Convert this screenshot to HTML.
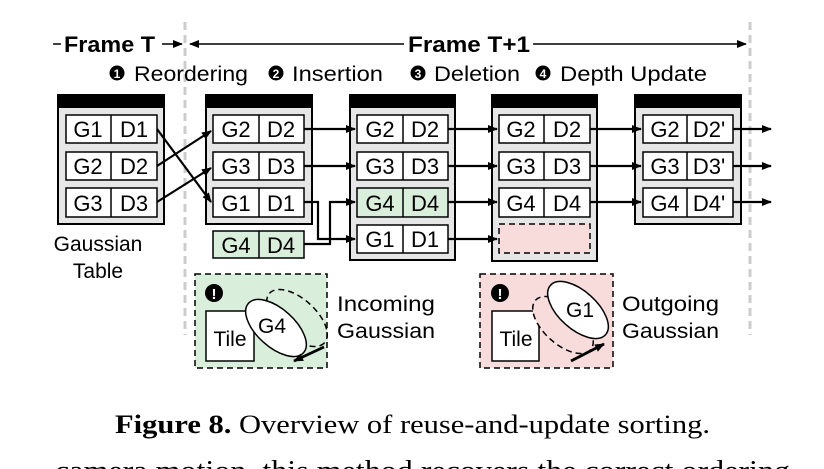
<!DOCTYPE html>
<html><head><meta charset="utf-8"><style>
html,body{margin:0;padding:0;background:#fff;width:824px;height:469px;overflow:hidden}
svg{display:block}
text{font-family:"Liberation Sans",sans-serif;fill:#000}
</style></head><body>
<svg width="824" height="469" viewBox="0 0 824 469" xmlns="http://www.w3.org/2000/svg">
<defs>
<marker id="a" markerWidth="10" markerHeight="8" refX="9" refY="4" orient="auto" markerUnits="userSpaceOnUse"><path d="M0,0 L10,4 L0,8 Z" fill="#000"/></marker>
</defs>
<line x1="185" y1="22" x2="185" y2="335" stroke="#ccc" stroke-width="3" stroke-dasharray="8,5"/>
<line x1="750" y1="22" x2="750" y2="335" stroke="#ccc" stroke-width="3" stroke-dasharray="8,5"/>
<line x1="53" y1="44" x2="61" y2="44" stroke="#000" stroke-width="1.5"/>
<text x="64" y="52" font-size="22" font-weight="bold" textLength="91" lengthAdjust="spacingAndGlyphs">Frame T</text>
<line x1="162" y1="44" x2="182" y2="44" stroke="#000" stroke-width="1.5" marker-end="url(#a)"/>
<line x1="404" y1="44" x2="190" y2="44" stroke="#000" stroke-width="1.5" marker-end="url(#a)"/>
<text x="408" y="52" font-size="22" font-weight="bold" textLength="122" lengthAdjust="spacingAndGlyphs">Frame T+1</text>
<line x1="533" y1="44" x2="746" y2="44" stroke="#000" stroke-width="1.5" marker-end="url(#a)"/>
<g font-size="21">
<circle cx="117" cy="73" r="7.5" fill="#000"/><text x="117" y="78" font-size="12" font-weight="bold" text-anchor="middle" style="fill:#fff">1</text>
<text x="134" y="81" textLength="114" lengthAdjust="spacingAndGlyphs">Reordering</text>
<circle cx="276" cy="73" r="7.5" fill="#000"/><text x="276" y="78" font-size="12" font-weight="bold" text-anchor="middle" style="fill:#fff">2</text>
<text x="292" y="81" textLength="91" lengthAdjust="spacingAndGlyphs">Insertion</text>
<circle cx="418" cy="73" r="7.5" fill="#000"/><text x="418" y="78" font-size="12" font-weight="bold" text-anchor="middle" style="fill:#fff">3</text>
<text x="434" y="81" textLength="86" lengthAdjust="spacingAndGlyphs">Deletion</text>
<circle cx="543" cy="73" r="7.5" fill="#000"/><text x="543" y="78" font-size="12" font-weight="bold" text-anchor="middle" style="fill:#fff">4</text>
<text x="560" y="81" textLength="147" lengthAdjust="spacingAndGlyphs">Depth Update</text>
</g>
<g stroke="#000" stroke-width="2">
<rect x="58" y="96" width="106" height="128" fill="#e6e6e6"/>
<rect x="58" y="95" width="106" height="12" fill="#000"/>
<rect x="206" y="96" width="106" height="128" fill="#e6e6e6"/>
<rect x="206" y="95" width="106" height="12" fill="#000"/>
<rect x="350" y="96" width="105" height="164" fill="#e6e6e6"/>
<rect x="350" y="95" width="105" height="12" fill="#000"/>
<rect x="492" y="96" width="105" height="165" fill="#e6e6e6"/>
<rect x="492" y="95" width="105" height="12" fill="#000"/>
<rect x="635" y="96" width="106" height="128" fill="#e6e6e6"/>
<rect x="635" y="95" width="106" height="12" fill="#000"/>
</g>
<g stroke="#000" stroke-width="1.5" fill="#fff">
<rect x="66" y="115" width="91" height="28"/><line x1="111" y1="115" x2="111" y2="143"/>
<rect x="66" y="152" width="91" height="28"/><line x1="111" y1="152" x2="111" y2="180"/>
<rect x="66" y="188" width="91" height="29"/><line x1="111" y1="188" x2="111" y2="217"/>
<rect x="213" y="115" width="91" height="28"/><line x1="259" y1="115" x2="259" y2="143"/>
<rect x="213" y="152" width="91" height="28"/><line x1="259" y1="152" x2="259" y2="180"/>
<rect x="213" y="188" width="91" height="29"/><line x1="259" y1="188" x2="259" y2="217"/>
<rect x="213" y="231" width="91" height="27" fill="#d9eedb"/><line x1="259" y1="231" x2="259" y2="258"/>
<rect x="357" y="115" width="91" height="28"/><line x1="403" y1="115" x2="403" y2="143"/>
<rect x="357" y="152" width="91" height="28"/><line x1="403" y1="152" x2="403" y2="180"/>
<rect x="357" y="188" width="91" height="29" fill="#d9eedb"/><line x1="403" y1="188" x2="403" y2="217"/>
<rect x="357" y="225" width="91" height="28"/><line x1="403" y1="225" x2="403" y2="253"/>
<rect x="499" y="115" width="91" height="28"/><line x1="544" y1="115" x2="544" y2="143"/>
<rect x="499" y="152" width="91" height="28"/><line x1="544" y1="152" x2="544" y2="180"/>
<rect x="499" y="188" width="91" height="29"/><line x1="544" y1="188" x2="544" y2="217"/>
<rect x="499" y="224" width="91" height="29" fill="#f8dcdc" stroke-dasharray="6,4"/>
<rect x="643" y="115" width="90" height="28"/><line x1="687" y1="115" x2="687" y2="143"/>
<rect x="643" y="152" width="90" height="28"/><line x1="687" y1="152" x2="687" y2="180"/>
<rect x="643" y="188" width="90" height="29"/><line x1="687" y1="188" x2="687" y2="217"/>
</g>
<g text-anchor="middle" font-size="22">
<text x="88" y="137">G1</text><text x="134" y="137">D1</text>
<text x="88" y="174">G2</text><text x="134" y="174">D2</text>
<text x="88" y="211">G3</text><text x="134" y="211">D3</text>
<text x="236" y="137">G2</text><text x="281" y="137">D2</text>
<text x="236" y="174">G3</text><text x="281" y="174">D3</text>
<text x="236" y="211">G1</text><text x="281" y="211">D1</text>
<text x="236" y="253">G4</text><text x="281" y="253">D4</text>
<text x="380" y="137">G2</text><text x="425" y="137">D2</text>
<text x="380" y="174">G3</text><text x="425" y="174">D3</text>
<text x="380" y="211">G4</text><text x="425" y="211">D4</text>
<text x="380" y="247">G1</text><text x="425" y="247">D1</text>
<text x="521" y="137">G2</text><text x="567" y="137">D2</text>
<text x="521" y="174">G3</text><text x="567" y="174">D3</text>
<text x="521" y="211">G4</text><text x="567" y="211">D4</text>
<text x="665" y="137">G2</text><text x="709" y="137">D2'</text>
<text x="665" y="174">G3</text><text x="709" y="174">D3'</text>
<text x="665" y="211">G4</text><text x="709" y="211">D4'</text>
<text x="98" y="251" font-size="21">Gaussian</text>
<text x="98" y="278" font-size="21">Table</text>
</g>
<g stroke="#000" stroke-width="2.2" fill="none">
<line x1="157" y1="129" x2="211" y2="202" marker-end="url(#a)"/>
<line x1="157" y1="166" x2="211" y2="131" marker-end="url(#a)"/>
<line x1="157" y1="202" x2="211" y2="168" marker-end="url(#a)"/>
<line x1="304" y1="129" x2="355" y2="129" marker-end="url(#a)"/>
<line x1="304" y1="166" x2="355" y2="166" marker-end="url(#a)"/>
<polyline points="304,202 318,202 318,239 355,239" marker-end="url(#a)"/>
<polyline points="304,244 330,244 330,202 355,202" marker-end="url(#a)"/>
<line x1="448" y1="129" x2="497" y2="129" marker-end="url(#a)"/>
<line x1="448" y1="166" x2="497" y2="166" marker-end="url(#a)"/>
<line x1="448" y1="202" x2="497" y2="202" marker-end="url(#a)"/>
<line x1="448" y1="239" x2="497" y2="239" marker-end="url(#a)"/>
<line x1="590" y1="129" x2="641" y2="129" marker-end="url(#a)"/>
<line x1="590" y1="166" x2="641" y2="166" marker-end="url(#a)"/>
<line x1="590" y1="202" x2="641" y2="202" marker-end="url(#a)"/>
<line x1="733" y1="129" x2="771" y2="129" marker-end="url(#a)"/>
<line x1="733" y1="166" x2="771" y2="166" marker-end="url(#a)"/>
<line x1="733" y1="202" x2="771" y2="202" marker-end="url(#a)"/>
</g>
<rect x="195" y="274" width="132" height="94" fill="#d9eedb" stroke="#000" stroke-width="1.5" stroke-dasharray="6,4"/>
<rect x="206" y="311" width="48" height="50" fill="#fff" stroke="#000" stroke-width="1.5"/>
<text x="230" y="346" font-size="21" text-anchor="middle">Tile</text>
<ellipse cx="297" cy="318" rx="37" ry="19" transform="rotate(42 297 318)" fill="none" stroke="#000" stroke-width="1.5" stroke-dasharray="6,4"/>
<ellipse cx="276" cy="328" rx="37" ry="19" transform="rotate(42 276 328)" fill="#fff" stroke="#000" stroke-width="1.5"/>
<text x="272" y="333" font-size="21" text-anchor="middle">G4</text>
<circle cx="214" cy="293" r="9" fill="#000"/>
<text x="214" y="299" font-size="15" font-weight="bold" text-anchor="middle" style="fill:#fff">!</text>
<line x1="324" y1="347" x2="294" y2="361" stroke="#000" stroke-width="2.8" marker-end="url(#a)"/>
<text x="337" y="311" font-size="21" textLength="98" lengthAdjust="spacingAndGlyphs">Incoming</text>
<text x="337" y="338" font-size="21" textLength="98" lengthAdjust="spacingAndGlyphs">Gaussian</text>
<rect x="480" y="274" width="133" height="94" fill="#f8dcdc" stroke="#000" stroke-width="1.5" stroke-dasharray="6,4"/>
<rect x="492" y="311" width="47" height="50" fill="#fff" stroke="#000" stroke-width="1.5"/>
<text x="516" y="346" font-size="21" text-anchor="middle">Tile</text>
<ellipse cx="563" cy="325" rx="37" ry="19" transform="rotate(42 563 325)" fill="#f8dcdc" stroke="#000" stroke-width="1.5" stroke-dasharray="6,4"/>
<ellipse cx="578" cy="310" rx="37" ry="19" transform="rotate(42 578 310)" fill="#fff" stroke="#000" stroke-width="1.5"/>
<text x="580" y="317" font-size="21" text-anchor="middle">G1</text>
<circle cx="500" cy="293" r="9" fill="#000"/>
<text x="500" y="299" font-size="15" font-weight="bold" text-anchor="middle" style="fill:#fff">!</text>
<line x1="571" y1="361" x2="604" y2="344" stroke="#000" stroke-width="2.8" marker-end="url(#a)"/>
<text x="622" y="311" font-size="21" textLength="97" lengthAdjust="spacingAndGlyphs">Outgoing</text>
<text x="622" y="338" font-size="21" textLength="97" lengthAdjust="spacingAndGlyphs">Gaussian</text>
<text x="115" y="433" font-size="26" style="font-family:'Liberation Serif',serif" textLength="595" lengthAdjust="spacingAndGlyphs"><tspan font-weight="bold">Figure 8.</tspan> Overview of reuse-and-update sorting.</text>
<text x="55" y="480" font-size="28" style="font-family:'Liberation Serif',serif" textLength="735" lengthAdjust="spacingAndGlyphs">camera motion, this method recovers the correct ordering</text>
</svg>
</body></html>
